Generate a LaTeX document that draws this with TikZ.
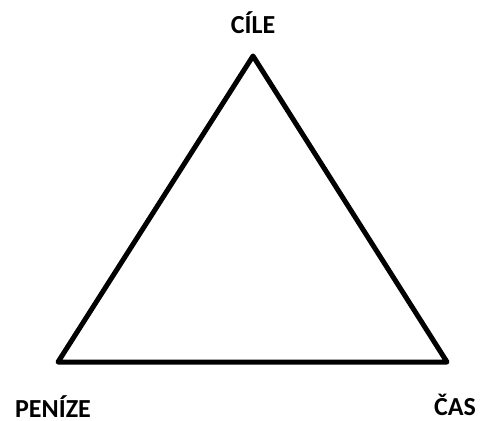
\documentclass[tikz,border=0pt]{standalone}
\usepackage{fontspec}
\setmainfont{Carlito}
\usetikzlibrary{calc,positioning}
\tikzset{corner/.style={font=\bfseries\fontsize{13}{15}\selectfont,inner sep=0pt}}
\begin{document}
\begin{tikzpicture}[x=0.5pt,y=-0.5pt]
			\useasboundingbox (0,0) rectangle (480,421);
			\coordinate (top) at (253,56);
			\coordinate (left) at (58,362);
			\coordinate (right) at (447,362);
			\draw[line width=2.5pt,line join=round] (top)--(right)--(left)--cycle;
			\node[corner] (cile) at (253,23) {CÍLE};
			\node[corner] (penize) at (53,407) {PENÍZE};
			\node[corner] (cas) at (455,405) {ČAS};
		\end{tikzpicture}
\end{document}
